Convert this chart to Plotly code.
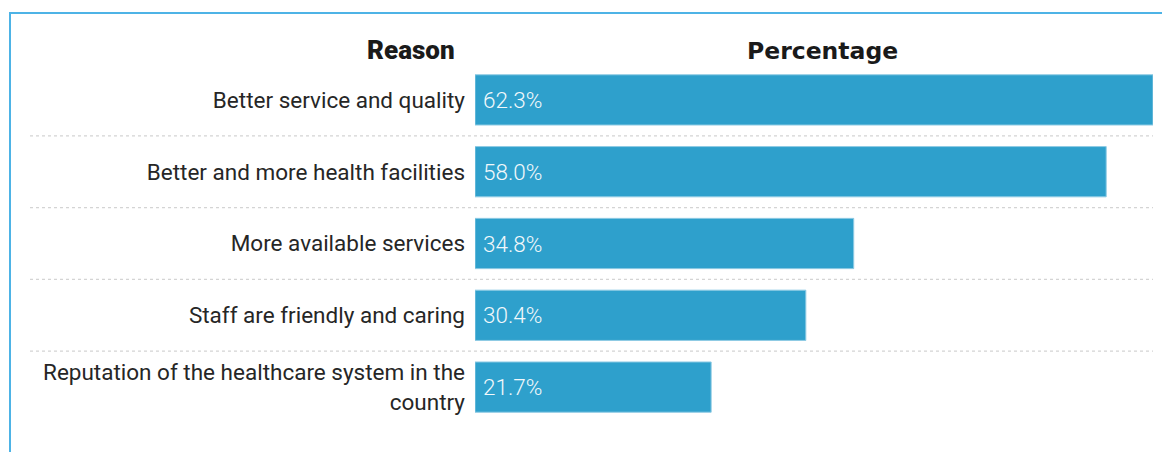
import plotly.graph_objects as go

reasons = [
    "Better service and quality",
    "Better and more health facilities",
    "More available services",
    "Staff are friendly and caring",
    "Reputation of the healthcare system in the<br>country",
]
percentages = [62.3, 58.0, 34.8, 30.4, 21.7]
value_labels = ["62.3%", "58.0%", "34.8%", "30.4%", "21.7%"]

W, H = 1162, 452
ML, MR, MT, MB = 475, 9, 64, 29
plot_w = W - ML - MR
plot_h = H - MT - MB

def px_x(px):
    return (px - ML) / plot_w

def px_y(py):
    return (H - MB - py) / plot_h

BAR = "#2ea0cc"
FRAME = "#4db3e6"

fig = go.Figure(
    go.Bar(
        x=percentages,
        y=list(range(len(reasons))),
        orientation="h",
        width=0.7,
        marker=dict(color=BAR, line=dict(color="#8fcbe4", width=1)),
        hoverinfo="skip",
    )
)

annotations = []
for i, lab in enumerate(value_labels):
    annotations.append(dict(
        x=0, y=i, xref="x", yref="y", text=lab, showarrow=False,
        xanchor="left", xshift=6,
        font=dict(family="Roboto", size=22.5, color="#f2f8fb", weight=300),
    ))

annotations.append(dict(
    x=px_x(457), y=px_y(50), xref="paper", yref="paper", text="Reason",
    showarrow=False, xanchor="right", yanchor="middle",
    font=dict(family="Roboto", size=26, color="#1a1a1a", weight=900),
))
annotations.append(dict(
    x=px_x(822), y=px_y(51), xref="paper", yref="paper", text="Percentage",
    showarrow=False, xanchor="center", yanchor="middle",
    font=dict(family="DejaVu Sans", size=23.5, color="#1a1a1a", weight=800),
))

shapes = []
for i in range(len(reasons) - 1):
    shapes.append(dict(
        type="line", xref="paper", yref="y",
        x0=px_x(30), x1=px_x(1153), y0=i + 0.5, y1=i + 0.5,
        line=dict(color="#d4d4d4", width=1.2, dash="dot"),
    ))
# frame lines along the top and left edges
shapes.append(dict(type="line", xref="paper", yref="paper",
                   x0=px_x(9), x1=px_x(W), y0=px_y(13), y1=px_y(13),
                   line=dict(color=FRAME, width=2)))
shapes.append(dict(type="line", xref="paper", yref="paper",
                   x0=px_x(10), x1=px_x(10), y0=px_y(12), y1=px_y(H),
                   line=dict(color=FRAME, width=2)))

fig.update_layout(
    width=W, height=H,
    margin=dict(l=ML, r=MR, t=MT, b=MB),
    paper_bgcolor="white", plot_bgcolor="white",
    showlegend=False,
    bargap=0.3,
    xaxis=dict(range=[0, 62.3], visible=False, fixedrange=True),
    yaxis=dict(
        range=[len(reasons) - 0.5, -0.5],
        tickmode="array", tickvals=list(range(len(reasons))), ticktext=reasons,
        showgrid=False, zeroline=False, showline=False, ticks="",
        ticklabelstandoff=9,
        tickfont=dict(family="Roboto", size=22.5, color="#262626"),
        fixedrange=True,
    ),
    annotations=annotations,
    shapes=shapes,
)

fig.write_html("out.html", config={"displayModeBar": False})
